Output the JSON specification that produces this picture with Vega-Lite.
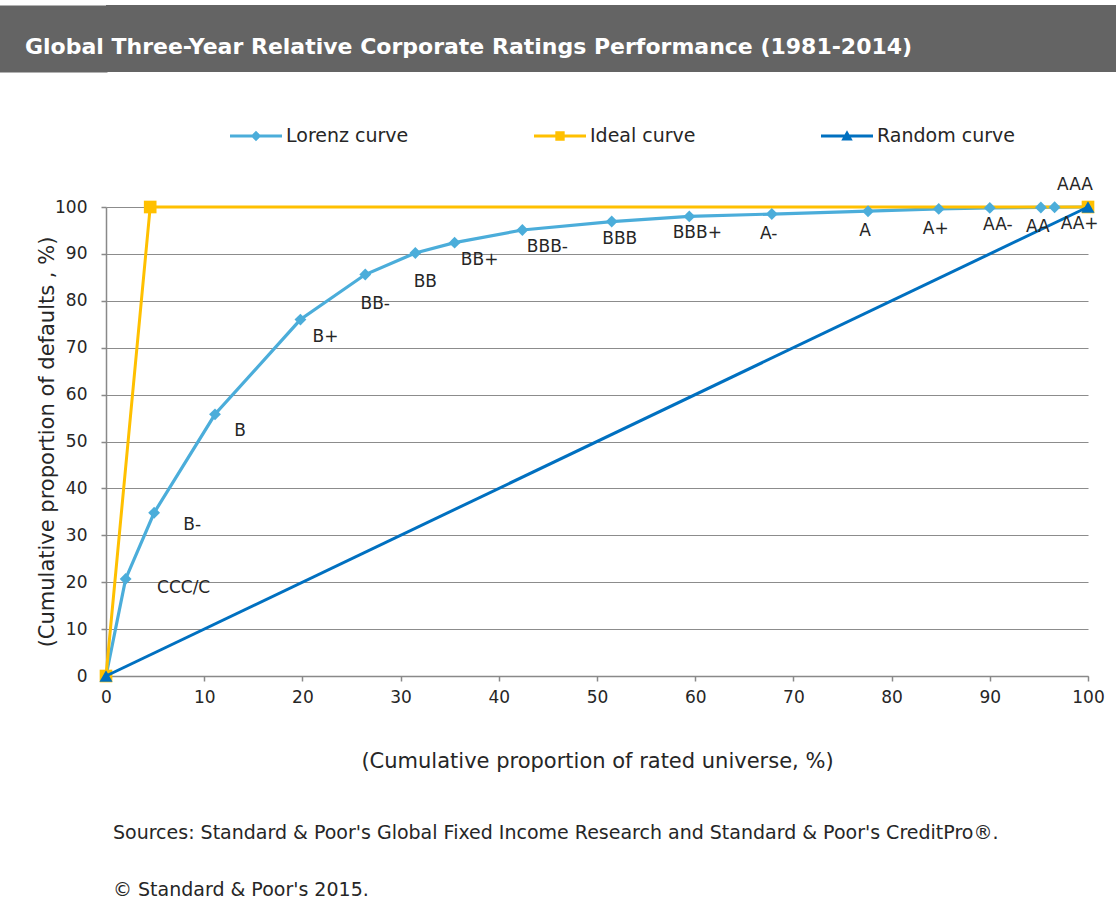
{
  "$schema": "https://vega.github.io/schema/vega-lite/v6.json",
  "padding": {"left": 4, "top": 5, "right": 0, "bottom": 0},
  "background": "white",
  "columns": 1,
  "align": "none",
  "spacing": 104,
  "config": {
    "font": "DejaVu Sans",
    "view": {"stroke": null},
    "axis": {
      "domainColor": "#898989",
      "domainWidth": 1.5,
      "tickColor": "#898989",
      "tickWidth": 1.5,
      "gridColor": "#8c8c8c",
      "gridWidth": 1.2,
      "labelFontSize": 17,
      "titleFontSize": 21,
      "labelColor": "#262626",
      "titleColor": "#262626",
      "titleFontWeight": "normal",
      "labelFlush": false,
      "labelOverlap": false
    }
  },
  "concat": [
    {
      "width": 1010,
      "height": 67,
      "view": {"fill": "#646464", "stroke": null},
      "title": {
        "text": "Global Three-Year Relative Corporate Ratings Performance (1981-2014)",
        "anchor": "start",
        "orient": "top",
        "frame": "group",
        "offset": -71,
        "dx": -81,
        "baseline": "alphabetic",
        "color": "white",
        "fontSize": 22,
        "fontWeight": "bold",
        "font": "DejaVu Sans"
      },
      "data": {"values": [{"k": 1}]},
      "mark": {"type": "point", "opacity": 0, "size": 1},
      "encoding": {
        "y": {
          "field": "k",
          "type": "quantitative",
          "scale": {"domain": [0, 2]},
          "axis": {"labels": false, "ticks": false, "grid": false, "title": null, "domain": true, "offset": 102, "domainColor": "#646464", "domainWidth": 206, "domainCap": "butt"}
        }
      }
    },
    {
      "width": 982,
      "height": 469,
      "title": {
        "text": "Sources: Standard & Poor's Global Fixed Income Research and Standard & Poor's CreditPro®.",
        "subtitle": "© Standard & Poor's 2015.",
        "orient": "bottom",
        "anchor": "start",
        "frame": "group",
        "offset": 53,
        "dx": 7,
        "fontSize": 19,
        "fontWeight": "normal",
        "color": "#262626",
        "subtitleFontSize": 19,
        "subtitleColor": "#262626",
        "subtitlePadding": 38,
        "font": "DejaVu Sans",
        "subtitleFont": "DejaVu Sans"
      },
      "data": {
        "values": [
          {"series": "Lorenz curve", "rating": "", "x": 0, "y": 0},
          {"series": "Lorenz curve", "rating": "CCC/C", "x": 2.0, "y": 20.7},
          {"series": "Lorenz curve", "rating": "B-", "x": 4.9, "y": 34.8},
          {"series": "Lorenz curve", "rating": "B", "x": 11.1, "y": 55.8},
          {"series": "Lorenz curve", "rating": "B+", "x": 19.8, "y": 76.0},
          {"series": "Lorenz curve", "rating": "BB-", "x": 26.4, "y": 85.6},
          {"series": "Lorenz curve", "rating": "BB", "x": 31.5, "y": 90.2},
          {"series": "Lorenz curve", "rating": "BB+", "x": 35.5, "y": 92.4},
          {"series": "Lorenz curve", "rating": "BBB-", "x": 42.4, "y": 95.1},
          {"series": "Lorenz curve", "rating": "BBB", "x": 51.5, "y": 96.9},
          {"series": "Lorenz curve", "rating": "BBB+", "x": 59.4, "y": 98.0},
          {"series": "Lorenz curve", "rating": "A-", "x": 67.8, "y": 98.5},
          {"series": "Lorenz curve", "rating": "A", "x": 77.6, "y": 99.1},
          {"series": "Lorenz curve", "rating": "A+", "x": 84.8, "y": 99.6},
          {"series": "Lorenz curve", "rating": "AA-", "x": 90.0, "y": 99.8},
          {"series": "Lorenz curve", "rating": "AA", "x": 95.2, "y": 99.9},
          {"series": "Lorenz curve", "rating": "AA+", "x": 96.6, "y": 99.95},
          {"series": "Lorenz curve", "rating": "AAA", "x": 100, "y": 100},
          {"series": "Ideal curve", "rating": "", "x": 0, "y": 0},
          {"series": "Ideal curve", "rating": "", "x": 4.5, "y": 100},
          {"series": "Ideal curve", "rating": "", "x": 100, "y": 100},
          {"series": "Random curve", "rating": "", "x": 0, "y": 0},
          {"series": "Random curve", "rating": "", "x": 100, "y": 100}
        ]
      },
      "encoding": {
        "x": {
          "field": "x",
          "type": "quantitative",
          "scale": {"domain": [0, 100], "nice": false},
          "axis": {
            "values": [0, 10, 20, 30, 40, 50, 60, 70, 80, 90, 100],
            "grid": false,
            "tickSize": 5,
            "labelPadding": 8,
            "title": "(Cumulative proportion of rated universe, %)",
            "titlePadding": 45
          }
        },
        "y": {
          "field": "y",
          "type": "quantitative",
          "scale": {"domain": [0, 100], "nice": false},
          "axis": {
            "values": [0, 10, 20, 30, 40, 50, 60, 70, 80, 90, 100],
            "grid": true,
            "tickSize": 5,
            "labelPadding": 14,
            "title": "(Cumulative proportion of defaults , %)",
            "titlePadding": -3
          }
        }
      },
      "layer": [
        {
          "transform": [{"filter": "datum.series === 'Lorenz curve'"}],
          "mark": {"type": "line", "color": "#4BADDA", "strokeWidth": 3.2}
        },
        {
          "transform": [{"filter": "datum.series === 'Ideal curve'"}],
          "mark": {"type": "line", "color": "#FFC000", "strokeWidth": 3}
        },
        {
          "transform": [{"filter": "datum.series === 'Lorenz curve'"}],
          "mark": {"type": "point", "shape": "diamond", "filled": true, "opacity": 1, "size": 140, "color": "#4BADDA"}
        },
        {
          "transform": [{"filter": "datum.series === 'Ideal curve'"}],
          "mark": {"type": "point", "shape": "square", "filled": true, "opacity": 1, "size": 160, "color": "#FFC000"}
        },
        {
          "transform": [{"filter": "datum.series === 'Random curve'"}],
          "mark": {"type": "line", "color": "#0070C0", "strokeWidth": 3}
        },
        {
          "transform": [{"filter": "datum.series === 'Random curve'"}],
          "mark": {"type": "point", "shape": "triangle-up", "filled": true, "opacity": 1, "size": 170, "color": "#0070C0"}
        },
        {
          "mark": {"type": "point", "filled": true, "opacity": 0},
          "encoding": {
            "color": {
              "field": "series",
              "type": "nominal",
              "scale": {"domain": ["Lorenz curve", "Ideal curve", "Random curve"], "range": ["#4BADDA", "#FFC000", "#0070C0"]},
              "legend": {"title": null, "orient": "none", "direction": "horizontal", "legendX": 124, "legendY": 105, "symbolSize": 2704, "symbolOpacity": 1, "symbolStrokeWidth": 0, "labelFontSize": 19, "labelColor": "#262626", "labelOffset": 4, "columnPadding": 125, "labelFont": "DejaVu Sans"}
            },
            "shape": {
              "field": "series",
              "type": "nominal",
              "scale": {
                "domain": ["Lorenz curve", "Ideal curve", "Random curve"],
                "range": [
                  "M-1,-0.06H1V0.06H-1Z M0,-0.2L0.2,0L0,0.2L-0.2,0Z",
                  "M-1,-0.06H1V0.06H-1Z M-0.18,-0.18H0.18V0.18H-0.18Z",
                  "M-1,-0.06H1V0.06H-1Z M0,-0.22L0.22,0.17L-0.22,0.17Z"
                ]
              },
              "legend": {"title": null, "orient": "none", "direction": "horizontal", "legendX": 124, "legendY": 105, "symbolSize": 2704, "symbolOpacity": 1, "symbolStrokeWidth": 0, "labelFontSize": 19, "labelColor": "#262626", "labelOffset": 4, "columnPadding": 125, "labelFont": "DejaVu Sans"}
            }
          }
        },
        {
          "transform": [{"filter": "datum.rating === 'CCC/C'"}],
          "mark": {"type": "text", "dx": 58, "dy": 9, "fontSize": 17, "color": "#262626", "align": "center", "baseline": "middle"},
          "encoding": {"text": {"field": "rating"}}
        },
        {
          "transform": [{"filter": "datum.rating === 'B-'"}],
          "mark": {"type": "text", "dx": 38, "dy": 12, "fontSize": 17, "color": "#262626", "align": "center", "baseline": "middle"},
          "encoding": {"text": {"field": "rating"}}
        },
        {
          "transform": [{"filter": {"field": "rating", "oneOf": ["B", "B+", "BB+", "BBB-", "AA+"]}}],
          "mark": {"type": "text", "dx": 25, "dy": 17, "fontSize": 17, "color": "#262626", "align": "center", "baseline": "middle"},
          "encoding": {"text": {"field": "rating"}}
        },
        {
          "transform": [{"filter": {"field": "rating", "oneOf": ["BB-", "BB"]}}],
          "mark": {"type": "text", "dx": 10, "dy": 29, "fontSize": 17, "color": "#262626", "align": "center", "baseline": "middle"},
          "encoding": {"text": {"field": "rating"}}
        },
        {
          "transform": [{"filter": {"field": "rating", "oneOf": ["BBB", "BBB+", "AA-"]}}],
          "mark": {"type": "text", "dx": 8, "dy": 17, "fontSize": 17, "color": "#262626", "align": "center", "baseline": "middle"},
          "encoding": {"text": {"field": "rating"}}
        },
        {
          "transform": [{"filter": {"field": "rating", "oneOf": ["A-", "A", "A+", "AA"]}}],
          "mark": {"type": "text", "dx": -3, "dy": 20, "fontSize": 17, "color": "#262626", "align": "center", "baseline": "middle"},
          "encoding": {"text": {"field": "rating"}}
        },
        {
          "transform": [{"filter": "datum.rating === 'AAA'"}],
          "mark": {"type": "text", "dx": -13, "dy": -22, "fontSize": 17, "color": "#262626", "align": "center", "baseline": "middle"},
          "encoding": {"text": {"field": "rating"}}
        }
      ]
    }
  ]
}
